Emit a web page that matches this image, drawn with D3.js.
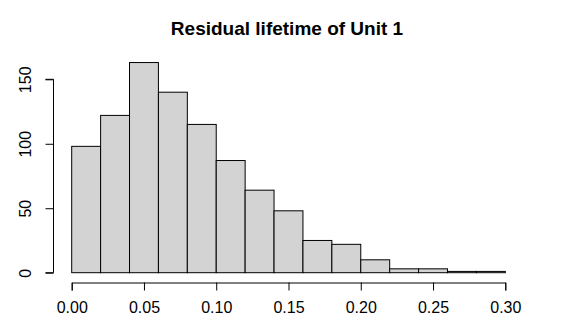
<!DOCTYPE html>
<html>
<head>
<meta charset="utf-8">
<script src="https://cdn.jsdelivr.net/npm/d3@7"></script>
<style>
  body { margin: 0; background: #fff; }
  text { font-family: "Liberation Sans", Arial, sans-serif; fill: #000; }
</style>
</head>
<body>
<svg id="chart" width="577" height="336"></svg>
<script>
// histogram bins (width 0.02) and counts
const binEdges = [0, 0.02, 0.04, 0.06, 0.08, 0.10, 0.12, 0.14, 0.16, 0.18, 0.20, 0.22, 0.24, 0.26, 0.28, 0.30]
const counts = [98, 122, 163, 140, 115, 87, 64, 48, 25, 22, 10, 3, 3, 1, 1]
const xTicks = [0, 0.05, 0.10, 0.15, 0.20, 0.25, 0.30]
const yTicks = [0, 50, 100, 150]

let svg = d3.select('#chart')

let xScale = d3.scaleLinear().domain([0, 0.3]).range([71.7, 505.3])
let yScale = d3.scaleLinear().domain([0, 150]).range([272.7, 79.3])

let bins = counts.map((c, i) => ({ x0: binEdges[i], x1: binEdges[i + 1], n: c }))

svg.append('g')
  .selectAll('rect')
  .data(bins)
  .enter()
    .append('rect')
    .attr('x', d => xScale(d.x0))
    .attr('y', d => yScale(d.n))
    .attr('width', d => xScale(d.x1) - xScale(d.x0))
    .attr('height', d => yScale(0) - yScale(d.n))
    .style('fill', '#d3d3d3')
    .style('stroke', '#000')
    .style('stroke-width', 1)

// x axis, R style (detached below the bars)
let xAxis = svg.append('g')
  .attr('transform', 'translate(0, 282.5)')
  .call(d3.axisBottom(xScale).tickValues(xTicks).tickFormat(d3.format('.2f')).tickSize(8).tickPadding(11))
xAxis.selectAll('text').style('font-size', '16px')
xAxis.selectAll('line, path').style('stroke', '#000').style('stroke-width', 1)

// y axis, labels rotated
let yAxis = svg.append('g')
  .attr('transform', 'translate(53.5, 0)')
  .call(d3.axisLeft(yScale).tickValues(yTicks).tickSize(8))
yAxis.select('.domain').attr('d', `M-8,${yScale(0)}H0V${yScale(150)}H-8`)
yAxis.selectAll('line, path').style('stroke', '#000').style('stroke-width', 1)
yAxis.selectAll('text')
  .style('font-size', '16px')
  .attr('x', 0)
  .attr('dy', 0)
  .attr('transform', 'translate(-23, 0) rotate(-90)')
  .style('text-anchor', 'middle')
  .attr('y', 0)

svg.append('text')
  .attr('x', 287)
  .attr('y', 35)
  .style('text-anchor', 'middle')
  .style('font-size', '19px')
  .style('font-weight', 'bold')
  .text('Residual lifetime of Unit 1')
</script>
</body>
</html>
